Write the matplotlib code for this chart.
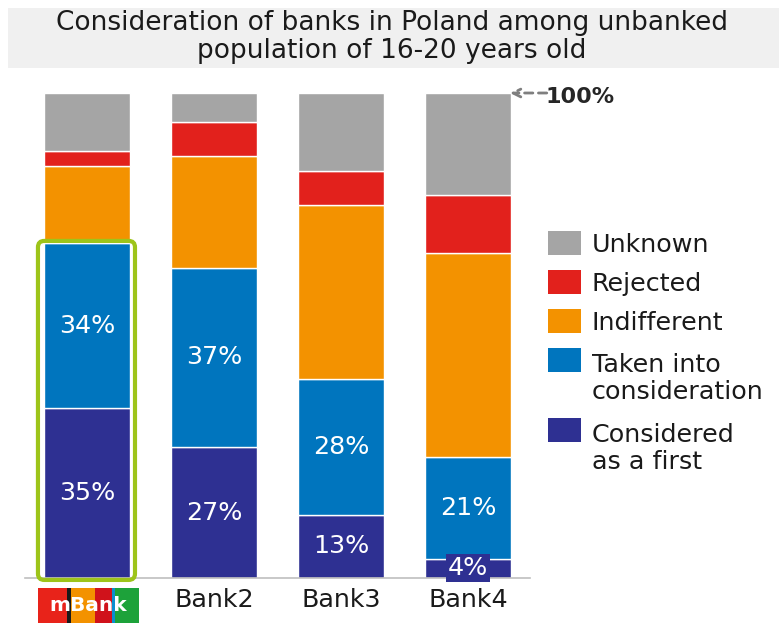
import matplotlib.pyplot as plt
from matplotlib.patches import Rectangle, FancyBboxPatch
import numpy as np

# data (bottom -> top)
banks = ["mBank", "Bank2", "Bank3", "Bank4"]
considered_first = [35, 27, 13, 4]
taken_into = [34, 37, 28, 21]
indifferent = [16, 23, 36, 42]
rejected = [3, 7, 7, 12]
unknown = [12, 6, 16, 21]

series = [considered_first, taken_into, indifferent, rejected, unknown]
labels = ["Considered\nas a first", "Taken into\nconsideration", "Indifferent", "Rejected", "Unknown"]
colors = ["#2e3092", "#0075be", "#f39200", "#e2211c", "#a5a5a5"]

W, H = 779, 623
fig = plt.figure(figsize=(W / 100, H / 100), dpi=100)
plt.rcParams['font.family'] = ['DejaVu Sans']
txtcol = "#1a1a1a"
fs = 18.3


def fx(px):
    return px / W


def fy(py):
    return 1 - py / H


# title box
fig.patches.append(Rectangle((fx(8), fy(68)), fx(779 - 8), 60 / H, transform=fig.transFigure,
                             facecolor="#f0f0f0", edgecolor="none", zorder=0))
fig.text(fx(392), fy(37), "Consideration of banks in Poland among unbanked\npopulation of 16-20 years old",
         ha="center", va="center", fontsize=19, color=txtcol, linespacing=1.12)

ax = fig.add_axes([fx(25), 45 / H, 505 / W, 485 / H])
x = np.arange(len(banks))
bw = 0.67
bottom = np.zeros(len(banks))
for vals, col in zip(series, colors):
    ax.bar(x, vals, bw, bottom=bottom, color=col, edgecolor="white", linewidth=1, zorder=2)
    bottom += np.array(vals)

# value labels on first two segments
for i in range(len(banks)):
    y1 = considered_first[i] / 2
    if considered_first[i] < 6:
        ax.text(x[i], y1, f"{considered_first[i]}%", ha="center", va="center", color="white", fontsize=fs,
                zorder=4, bbox=dict(boxstyle="square,pad=0.08", facecolor=colors[0], edgecolor="none"))
    else:
        ax.text(x[i], y1, f"{considered_first[i]}%", ha="center", va="center", color="white", fontsize=fs, zorder=4)
    y2 = considered_first[i] + taken_into[i] / 2
    ax.text(x[i], y2, f"{taken_into[i]}%", ha="center", va="center", color="white", fontsize=fs, zorder=4)

ax.set_xlim(-0.488, 3.488)
ax.set_ylim(0, 100)
for s in ["top", "right", "left"]:
    ax.spines[s].set_visible(False)
ax.spines["bottom"].set_color("#bfbfbf")
ax.spines["bottom"].set_linewidth(1.2)
ax.set_yticks([])
ax.set_xticks(x[1:])
ax.set_xticklabels(banks[1:], fontsize=fs, color=txtcol)
ax.tick_params(axis="x", length=0, pad=7)

# green highlight frame around mBank
frame = FancyBboxPatch((-0.386, -0.4), 0.764, 69.9, boxstyle="round,pad=0,rounding_size=0.05",
                       mutation_aspect=26, facecolor="none", edgecolor="#9dc41a", linewidth=3,
                       clip_on=False, zorder=5)
ax.add_patch(frame)

# 100% marker
ax.annotate("", xy=(3.33, 100), xytext=(3.62, 100), xycoords="data", textcoords="data",
            arrowprops=dict(arrowstyle="->", color="#7f7f7f", linestyle=(0, (3, 2)), lw=2,
                            mutation_scale=14, shrinkA=0, shrinkB=0), annotation_clip=False)
fig.text(fx(546), fy(97), "100%", fontsize=16, fontweight="bold", color="#262626", ha="left", va="center")

# legend (manual, top to bottom)
leg_rows = [243, 282, 321, 360, 430]
for lab, col, yc in zip(labels[::-1], colors[::-1], leg_rows):
    fig.patches.append(Rectangle((fx(548), fy(yc + 12)), 33 / W, 24 / H, transform=fig.transFigure,
                                 facecolor=col, edgecolor="none"))
    nlines = lab.count("\n")
    fig.text(fx(592), fy(yc + 9 + 30 * nlines), lab, fontsize=fs, color=txtcol, ha="left",
             va="baseline", linespacing=1.16)

# mBank logo
lax = fig.add_axes([fx(38), 0, 101 / W, 35 / H])
stripes = [(0, 29, "#e8231a"), (29, 33, "#1a1a1a"), (33, 57, "#f39200"), (57, 74, "#d0121b"),
           (74, 77, "#0a8fd0"), (77, 101, "#1da23a")]
for a, b, c in stripes:
    lax.add_patch(Rectangle((a, 0), b - a, 1, facecolor=c, edgecolor="none"))
lax.text(50.5, 0.5, "mBank", ha="center", va="center", color="white", fontsize=14.5, fontweight="bold")
lax.set_xlim(0, 101)
lax.set_ylim(0, 1)
lax.axis("off")

fig.savefig("out.png", dpi=100)
